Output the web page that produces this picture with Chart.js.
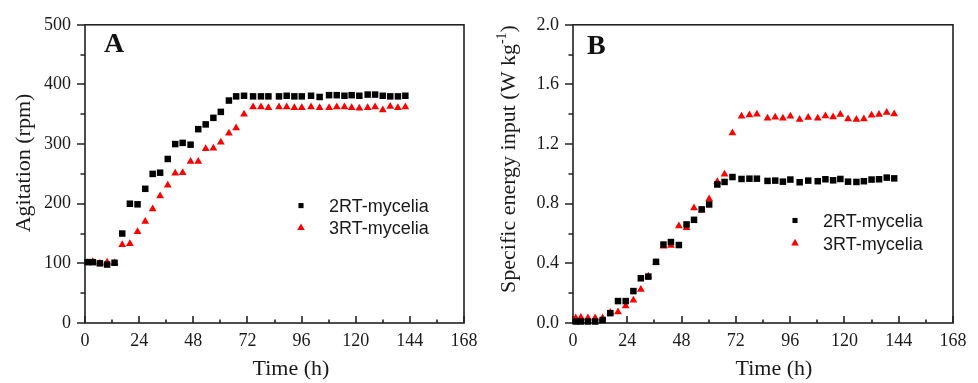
<!DOCTYPE html>
<html><head><meta charset="utf-8">
<script src="https://cdn.jsdelivr.net/npm/chart.js@4.4.1/dist/chart.umd.min.js"></script>
<style>
html,body{margin:0;padding:0;background:#fff;}
#wrap{position:relative;width:978px;height:383px;overflow:hidden;}
.pane{position:absolute;top:0;width:489px;height:383px;}
canvas{display:block;}
</style></head><body>
<div id="wrap">
<div class="pane" style="left:0"><canvas id="cA" width="489" height="383"></canvas></div>
<div class="pane" style="left:489px"><canvas id="cB" width="489" height="383"></canvas></div>
</div>
<script>
// ---- data ----
const timeH = [1.2, 3.5, 6.6, 9.8, 13.1, 16.5, 19.9, 23.3, 26.7, 30.0, 33.3, 36.7, 40.0, 43.3, 46.8, 50.2, 53.5, 56.9, 60.2, 63.8, 67.0, 70.5, 74.5, 78.0, 81.3, 86.0, 89.4, 92.8, 96.1, 100.2, 104.0, 108.2, 111.6, 115.0, 118.2, 121.6, 125.3, 128.6, 132.0, 135.3, 138.7, 142.0];
const agitation2RT = [102, 102, 100, 98, 101, 150, 200, 199, 225, 250, 252, 275, 300, 302, 299, 325, 333, 344, 354, 373, 380, 381, 380, 380, 380, 380, 381, 380, 380, 381, 379, 382, 382, 381, 382, 381, 383, 383, 381, 380, 380, 381];
const agitation3RT = [101, 102.5, 100, 102, 101, 131, 133, 153, 170, 191, 213, 231, 251, 252, 271, 271, 292, 293, 303, 318, 327, 350, 362, 362, 361, 362, 362, 361, 361, 362, 361, 361, 362, 362, 361, 360, 361, 362, 357, 363, 361, 362];
const energy2RT = [0.01, 0.01, 0.01, 0.01, 0.02, 0.066, 0.147, 0.147, 0.214, 0.30, 0.311, 0.41, 0.526, 0.543, 0.523, 0.661, 0.692, 0.762, 0.795, 0.929, 0.946, 0.979, 0.966, 0.968, 0.968, 0.953, 0.955, 0.948, 0.962, 0.944, 0.955, 0.951, 0.964, 0.957, 0.966, 0.948, 0.946, 0.951, 0.962, 0.964, 0.975, 0.970];
const energy3RT = [0.033, 0.037, 0.033, 0.033, 0.033, 0.07, 0.074, 0.114, 0.153, 0.225, 0.313, 0.405, 0.515, 0.519, 0.651, 0.638, 0.771, 0.757, 0.832, 0.948, 0.997, 1.275, 1.387, 1.395, 1.40, 1.374, 1.38, 1.374, 1.387, 1.365, 1.378, 1.374, 1.389, 1.382, 1.398, 1.369, 1.365, 1.369, 1.393, 1.398, 1.411, 1.402];
const timeTicks = [0, 24, 48, 72, 96, 120, 144, 168];
const agitationTicks = [0, 100, 200, 300, 400, 500];
const energyTicks = [0, 0.4, 0.8, 1.2, 1.6, 2.0];
const seriesNames = ['2RT-mycelia', '3RT-mycelia'];
const panelLetters = ['A', 'B'];
const xTitle = 'Time (h)';
const yTitleA = 'Agitation (rpm)';
const yTitleB = ['Specific energy input (W kg', '-1', ')'];

// ---- styling ----
const AXIS = '#222';
const TXT = '#1a1a1a';
const SERIF = '"Liberation Serif", "Times New Roman", serif';
const SANS = '"Liberation Sans", Arial, sans-serif';
const BLACK = '#000000';
const RED = '#ff0000';

function mids(t){ const o=[]; for(let i=0;i<t.length-1;i++) o.push((t[i]+t[i+1])/2); return o; }
function pts(xs, ys){ return xs.map((x,i)=>({x:x, y:ys[i]})); }

function drawMarker(ctx, style, x, y, r, color){
  ctx.fillStyle = color;
  ctx.beginPath();
  if (style === 'rect') {
    const s = Math.SQRT1_2 * r;
    ctx.rect(x - s, y - s, 2*s, 2*s);
  } else {
    for (let k=0;k<3;k++){
      const a = k * 2*Math.PI/3;
      const px = x + Math.sin(a)*r, py = y - Math.cos(a)*r;
      if (k===0) ctx.moveTo(px,py); else ctx.lineTo(px,py);
    }
    ctx.closePath();
  }
  ctx.fill();
}

function decor(cfg){
  return {
    id: 'decor',
    beforeDatasetsDraw(chart){
      const {ctx, chartArea:a, scales} = chart;
      const x = scales.x, y = scales.y;
      ctx.save();
      ctx.strokeStyle = AXIS; ctx.lineWidth = 1.6; ctx.lineCap = 'butt';
      ctx.strokeRect(a.left, a.top, a.right - a.left, a.bottom - a.top);
      ctx.beginPath();
      cfg.xTicks.forEach(v=>{ const p = Math.round(x.getPixelForValue(v)); ctx.moveTo(p, a.bottom); ctx.lineTo(p, a.bottom - 7); });
      mids(cfg.xTicks).forEach(v=>{ const p = Math.round(x.getPixelForValue(v)); ctx.moveTo(p, a.bottom); ctx.lineTo(p, a.bottom - 3.5); });
      cfg.yTicks.forEach(v=>{ const p = Math.round(y.getPixelForValue(v)); ctx.moveTo(a.left, p); ctx.lineTo(a.left - 8, p); });
      mids(cfg.yTicks).forEach(v=>{ const p = Math.round(y.getPixelForValue(v)); ctx.moveTo(a.left, p); ctx.lineTo(a.left - 4.5, p); });
      ctx.stroke();
      ctx.restore();
    },
    afterDraw(chart){
      const {ctx} = chart;
      ctx.save();
      // panel letter
      ctx.fillStyle = '#111';
      ctx.font = 'bold 28px ' + SERIF;
      ctx.textAlign = 'left'; ctx.textBaseline = 'alphabetic';
      ctx.fillText(cfg.letter, cfg.letterX, cfg.letterY);
      // x title
      ctx.fillStyle = TXT;
      ctx.font = '22px ' + SERIF;
      ctx.textAlign = 'center';
      ctx.fillText(xTitle, cfg.xTitleX, 375);
      // y title (rotated)
      ctx.save();
      ctx.translate(cfg.yTitleX, cfg.yTitleY);
      ctx.rotate(-Math.PI/2);
      ctx.textAlign = 'left';
      const parts = Array.isArray(cfg.yTitle) ? cfg.yTitle : [cfg.yTitle];
      const fMain = '22px ' + SERIF, fSup = '14px ' + SERIF;
      let total = 0;
      parts.forEach((p,i)=>{ ctx.font = (i===1)? fSup : fMain; total += ctx.measureText(p).width; });
      let cx = -total/2;
      parts.forEach((p,i)=>{
        ctx.font = (i===1)? fSup : fMain;
        ctx.fillText(p, cx, (i===1)? -9 : 0);
        cx += ctx.measureText(p).width;
      });
      ctx.restore();
      // legend
      ctx.font = '18px ' + SANS;
      ctx.textAlign = 'left'; ctx.textBaseline = 'alphabetic';
      const styles = [['rect', 3.6, BLACK], ['triangle', 4.4, RED]];
      cfg.legendRows.forEach((row, i)=>{
        drawMarker(ctx, styles[i][0], cfg.legendMarkerX, row, styles[i][1], styles[i][2]);
        ctx.fillStyle = TXT;
        ctx.fillText(seriesNames[i], cfg.legendTextX, row + 6.4);
      });
      ctx.restore();
    }
  };
}

function makeChart(id, s1, s2, yTicks, yMax, yFmt, yWidth, cfg){
  const tickFont = {family: SERIF, size: 18};
  return new Chart(document.getElementById(id), {
    type: 'scatter',
    data: {
      datasets: [
        {label: seriesNames[0], data: pts(timeH, s1), pointStyle: 'rect', pointRadius: 4.6, pointHoverRadius: 4.6, backgroundColor: BLACK, borderWidth: 0, pointBorderWidth: 0, clip: false},
        {label: seriesNames[1], data: pts(timeH, s2), pointStyle: 'triangle', pointRadius: 4.5, pointHoverRadius: 4.5, backgroundColor: RED, borderWidth: 0, pointBorderWidth: 0, clip: false}
      ]
    },
    options: {
      responsive: false, animation: false, devicePixelRatio: 1, events: [],
      layout: {padding: {left: 0, right: 25, top: 19, bottom: 0}},
      plugins: {legend: {display: false}, tooltip: {enabled: false}},
      scales: {
        x: {
          type: 'linear', min: 0, max: 168,
          grid: {display: false, drawTicks: false}, border: {display: false},
          ticks: {font: tickFont, color: TXT, padding: 7, maxRotation: 0, autoSkip: false},
          afterBuildTicks: sc => { sc.ticks = timeTicks.map(v=>({value: v})); },
          afterFit: sc => { sc.height = 60; }
        },
        y: {
          type: 'linear', min: 0, max: yMax,
          grid: {display: false, drawTicks: false}, border: {display: false},
          ticks: {font: tickFont, color: TXT, padding: 14, autoSkip: false, callback: yFmt},
          afterBuildTicks: sc => { sc.ticks = yTicks.map(v=>({value: v})); },
          afterFit: sc => { sc.width = yWidth; }
        }
      }
    },
    plugins: [decor(Object.assign({xTicks: timeTicks, yTicks: yTicks}, cfg))]
  });
}

makeChart('cA', agitation2RT, agitation3RT, agitationTicks, 500, v => String(v), 85, {
  letter: panelLetters[0], letterX: 104, letterY: 52,
  xTitleX: 291, yTitle: yTitleA, yTitleX: 30, yTitleY: 163,
  legendMarkerX: 301, legendTextX: 329, legendRows: [205.6, 227.8]
});
makeChart('cB', energy2RT, energy3RT, energyTicks, 2.0, v => Number(v).toFixed(1), 84, {
  letter: panelLetters[1], letterX: 98, letterY: 54,
  xTitleX: 285, yTitle: yTitleB, yTitleX: 26, yTitleY: 159,
  legendMarkerX: 306, legendTextX: 334, legendRows: [220.5, 243.2]
});
</script>
</body></html>
